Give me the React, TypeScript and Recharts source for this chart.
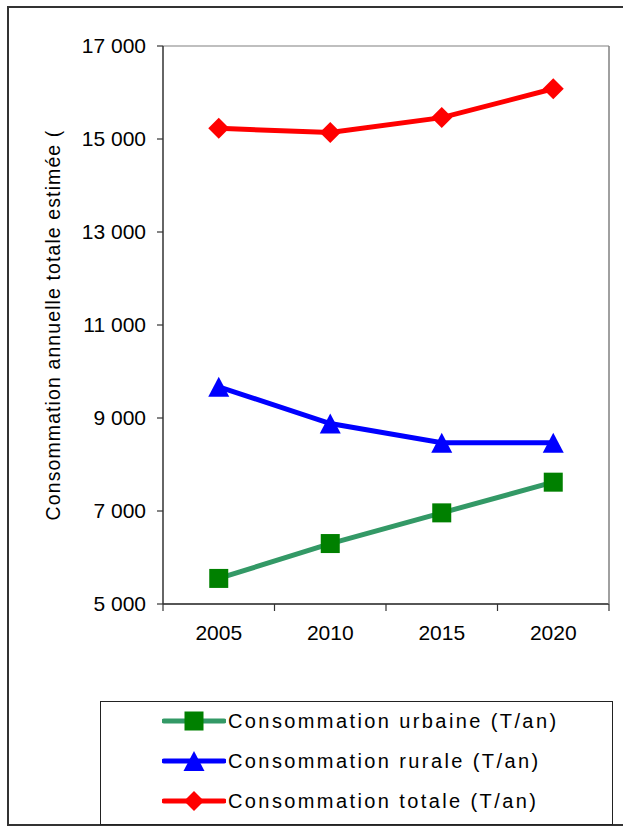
import { CartesianGrid, Label, Line, LineChart, XAxis, YAxis } from "recharts";
import type { CSSProperties } from "react";

const YEARS = ["2005", "2010", "2015", "2020"];
const URBAINE = [5550, 6300, 6960, 7620];
const RURALE = [9670, 8880, 8470, 8470];
const TOTALE = [15230, 15140, 15460, 16080];
const Y_TICKS = [5000, 7000, 9000, 11000, 13000, 15000, 17000];

const SERIES_NAMES = {
  urbaine: "Consommation urbaine (T/an)",
  rurale: "Consommation rurale (T/an)",
  totale: "Consommation totale (T/an)",
} as const;

const Y_LABEL = "Consommation annuelle totale estimée (";

const data = YEARS.map((year, i) => ({
  year,
  urbaine: URBAINE[i],
  rurale: RURALE[i],
  totale: TOTALE[i],
}));

const COLORS = {
  urbaineLine: "#339966",
  urbaineMark: "#008000",
  rurale: "#0000ff",
  totale: "#ff0000",
  grid: "#808080",
  axis: "#333333",
  text: "#000000",
} as const;

const FONT = "'Liberation Sans', Arial, sans-serif";
const TICK_SIZE = 6;
const TICK_MARGIN = 2;

const fmt = (v: number) => {
  const s = String(v);
  return s.length > 3 ? `${s.slice(0, -3)} ${s.slice(-3)}` : s;
};

const diamondPath = (cx: number, cy: number, r: number) =>
  `M${cx},${cy - r}L${cx + r},${cy}L${cx},${cy + r}L${cx - r},${cy}Z`;

const renderDiamond = (p: any) => (
  <path key={`d-${p.index}`} d={diamondPath(p.cx, p.cy, 10.5)} fill={COLORS.totale} />
);

const renderTriangle = (p: any) => (
  <path
    key={`t-${p.index}`}
    d={`M${p.cx},${p.cy - 10}L${p.cx + 10.5},${p.cy + 10}L${p.cx - 10.5},${p.cy + 10}Z`}
    fill={COLORS.rurale}
  />
);

const renderSquare = (p: any) => (
  <rect
    key={`s-${p.index}`}
    x={p.cx - 9.5}
    y={p.cy - 9.5}
    width={19}
    height={19}
    fill={COLORS.urbaineMark}
  />
);

// Excel-style category axis: tick marks sit between categories
function CategoryTick(props: any) {
  const { x, y, payload, index, visibleTicksCount, width } = props;
  const half = payload?.offset || (width ?? 446) / (visibleTicksCount * 2);
  const axisY = y - TICK_SIZE - TICK_MARGIN;
  const isLast = index === visibleTicksCount - 1;
  return (
    <g>
      <line x1={x - half} x2={x - half} y1={axisY} y2={axisY + 7} stroke={COLORS.axis} strokeWidth={1.2} />
      {isLast && (
        <line x1={x + half} x2={x + half} y1={axisY} y2={axisY + 7} stroke={COLORS.axis} strokeWidth={1.2} />
      )}
      <text x={x} y={axisY + 36} textAnchor="middle" fontSize={21} fontFamily={FONT} fill={COLORS.text}>
        {payload.value}
      </text>
    </g>
  );
}

const renderYLabel = (props: any) => {
  const vb = props.viewBox ?? { x: 0, y: 46, width: 163, height: 558 };
  const cx = vb.x + vb.width - 110;
  const cy = vb.y + vb.height / 2;
  return (
    <text
      x={cx}
      y={cy}
      transform={`rotate(-90, ${cx}, ${cy})`}
      textAnchor="middle"
      dominantBaseline="central"
      fontSize={19.5}
      letterSpacing={1.1}
      fontFamily={FONT}
      fill={COLORS.text}
    >
      {Y_LABEL}
    </text>
  );
};

const legendItems = [
  { name: SERIES_NAMES.urbaine, line: COLORS.urbaineLine, mark: "square" },
  { name: SERIES_NAMES.rurale, line: COLORS.rurale, mark: "triangle" },
  { name: SERIES_NAMES.totale, line: COLORS.totale, mark: "diamond" },
];

function LegendMark({ line, mark }: { line: string; mark: string }) {
  return (
    <svg width={64} height={30} style={{ display: "block" }}>
      <line x1={2} x2={62} y1={15} y2={15} stroke={line} strokeWidth={5} strokeLinecap="round" />
      {mark === "square" && <rect x={22.5} y={5.5} width={19} height={19} fill={COLORS.urbaineMark} />}
      {mark === "triangle" && <path d="M32,5L42.5,25L21.5,25Z" fill={COLORS.rurale} />}
      {mark === "diamond" && <path d="M32,5L42,15L32,25L22,15Z" fill={COLORS.totale} />}
    </svg>
  );
}

const pageStyle: CSSProperties = {
  position: "absolute",
  left: 0,
  top: 0,
  width: 623,
  height: 829,
  overflow: "hidden",
  background: "#ffffff",
  fontFamily: FONT,
};

export default function App() {
  return (
    <div style={pageStyle}>
      <div
        style={{
          position: "absolute",
          left: 7,
          top: 6,
          width: 640,
          height: 820,
          border: "2px solid #333",
          boxSizing: "border-box",
        }}
      />
      <div style={{ position: "absolute", left: 0, top: 0 }}>
        <LineChart width={623} height={829} data={data} margin={{ top: 46, right: 13, left: 0, bottom: 185 }}>
          <CartesianGrid stroke={COLORS.grid} strokeWidth={1.2} vertical={false} />
          <XAxis
            dataKey="year"
            scale="band"
            height={40}
            axisLine={{ stroke: COLORS.axis, strokeWidth: 1.5 }}
            tickLine={false}
            tickSize={TICK_SIZE}
            tickMargin={TICK_MARGIN}
            tick={<CategoryTick />}
            interval={0}
          />
          <YAxis
            yAxisId="left"
            width={163}
            domain={[5000, 17000]}
            ticks={Y_TICKS}
            tickFormatter={fmt}
            interval={0}
            axisLine={{ stroke: COLORS.axis, strokeWidth: 1.5 }}
            tickLine={{ stroke: COLORS.axis, strokeWidth: 1.2 }}
            tickSize={TICK_SIZE}
            tickMargin={11}
            tick={{ fill: COLORS.text, fontSize: 21, fontFamily: FONT }}
          >
            <Label content={renderYLabel} />
          </YAxis>
          <YAxis
            yAxisId="right"
            orientation="right"
            width={1}
            domain={[5000, 17000]}
            tick={false}
            tickLine={false}
            axisLine={{ stroke: COLORS.grid, strokeWidth: 1.5 }}
          />
          <Line
            yAxisId="left"
            type="linear"
            dataKey="urbaine"
            name={SERIES_NAMES.urbaine}
            stroke={COLORS.urbaineLine}
            strokeWidth={5}
            dot={renderSquare}
            activeDot={false}
            isAnimationActive={false}
          />
          <Line
            yAxisId="left"
            type="linear"
            dataKey="rurale"
            name={SERIES_NAMES.rurale}
            stroke={COLORS.rurale}
            strokeWidth={5}
            dot={renderTriangle}
            activeDot={false}
            isAnimationActive={false}
          />
          <Line
            yAxisId="left"
            type="linear"
            dataKey="totale"
            name={SERIES_NAMES.totale}
            stroke={COLORS.totale}
            strokeWidth={5}
            dot={renderDiamond}
            activeDot={false}
            isAnimationActive={false}
          />
        </LineChart>
      </div>
      <div
        style={{
          position: "absolute",
          left: 100,
          top: 701,
          width: 513,
          height: 124,
          border: "1.5px solid #222",
          boxSizing: "border-box",
          background: "#fff",
        }}
      >
        {legendItems.map((item, i) => (
          <div
            key={item.name}
            style={{
              position: "absolute",
              left: 61,
              top: 4 + i * 40,
              height: 30,
              display: "flex",
              alignItems: "center",
              whiteSpace: "nowrap",
            }}
          >
            <LegendMark line={item.line} mark={item.mark} />
            <span style={{ fontSize: 20, letterSpacing: 2.4, marginLeft: 2, color: COLORS.text }}>{item.name}</span>
          </div>
        ))}
      </div>
    </div>
  );
}
